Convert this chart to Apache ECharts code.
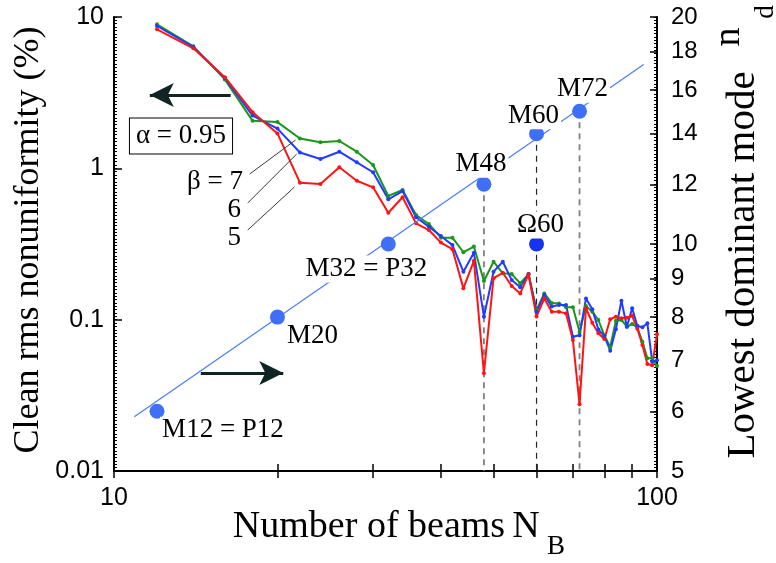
<!DOCTYPE html>
<html>
<head>
<meta charset="utf-8">
<script src="https://cdn.jsdelivr.net/npm/echarts@6/dist/echarts.min.js"></script>
<style>
  html, body { margin: 0; padding: 0; background: #fff; }
  #main { width: 776px; height: 563px; }
</style>
</head>
<body>
<div id="main"></div>
<script>
// number of beams N_B
var beams = [12, 14, 16, 18, 20, 22, 24, 26, 28, 30, 32, 34, 36, 38, 40, 42, 44, 46, 48, 50,
  52, 54, 56, 58, 60, 62, 64, 66, 68, 70, 72, 74, 76, 78, 80, 82, 84, 86, 88, 90,
  92, 94, 96, 98, 100]

// clean rms nonuniformity (%), beta = 5 / 6 / 7
var beta5 = [8.29, 6.21, 4.0, 2.35, 1.70, 0.804, 0.788, 1.016, 0.828, 0.749, 0.509, 0.644, 0.433, 0.391, 0.323, 0.292, 0.161, 0.245, 0.0442, 0.188,
  0.204, 0.167, 0.149, 0.199, 0.105, 0.138, 0.113, 0.113, 0.110, 0.0734, 0.0276, 0.119, 0.0955, 0.0813, 0.0745, 0.1006, 0.1046, 0.102, 0.103, 0.106,
  0.087, 0.068, 0.051, 0.050, 0.080]
var beta6 = [8.72, 6.34, 3.95, 2.23, 1.83, 1.272, 1.153, 1.288, 1.096, 0.942, 0.624, 0.708, 0.475, 0.412, 0.357, 0.311, 0.2075, 0.277, 0.1046, 0.2075,
  0.2415, 0.183, 0.164, 0.200, 0.113, 0.1455, 0.122, 0.125, 0.125, 0.0772, 0.079, 0.138, 0.117, 0.086, 0.078, 0.0624, 0.0864, 0.1335, 0.0898, 0.1189,
  0.091, 0.0891, 0.0946, 0.0528, 0.054]
var beta7 = [8.95, 6.4, 3.87, 2.06, 2.02, 1.574, 1.486, 1.516, 1.288, 1.052, 0.657, 0.719, 0.492, 0.429, 0.348, 0.348, 0.279, 0.304, 0.180, 0.2415,
  0.2025, 0.200, 0.174, 0.200, 0.116, 0.149, 0.129, 0.128, 0.121, 0.121, 0.083, 0.123, 0.113, 0.0995, 0.0785, 0.066, 0.0984, 0.0995, 0.0898, 0.0936,
  0.089, 0.0715, 0.0556, 0.0556, 0.0494]

// lowest dominant mode n_d (right axis)
var modeBeams = [12, 20, 32, 48, 60, 72]
var modeValues = [6, 8, 10, 12, 14, 15]
var modeNames = ['M12 = P12', 'M20', 'M32 = P32', 'M48', 'M60', 'M72']
var omegaBeams = [60]
var omegaValues = [10]
var omegaNames = ['\u03a960']
var fitBeams = [10.9, 94.5]
var fitModes = [5.9, 17.3]
var dropBeams = [48, 60, 72]

// axis ticks
var xTicks = [10, 20, 30, 40, 50, 60, 70, 80, 90, 100]
var xLabels = [10, 100]
var rightTicks = [5, 6, 7, 8, 9, 10, 12, 14, 16, 18, 20]

// annotation arrows / leader lines, in [N, %] units
var arrowLeft = [[16.4, 3.05], [11.64, 3.05]]
var arrowRight = [[14.45, 0.0444], [20.5, 0.0444]]
var leader7 = [[17.78, 0.917], [21.6, 1.539]]
var leader6 = [[17.63, 0.590], [21.7, 1.243]]
var leader5 = [[17.63, 0.391], [21.5, 0.753]]

var serif = 'Liberation Serif'
var sans = 'Liberation Sans'

// where each mode label sits relative to its dot
var labelOffset = {
  'M12 = P12': [66, 19],
  'M20': [35, 19],
  'M32 = P32': [-22, 25],
  'M48': [-3, -20],
  'M60': [-3, -18],
  'M72': [3, -22],
  '\u03a960': [4, -19]
}

function pairs(xs, ys) {
  return xs.map(function (x, i) { return [x, ys[i]] })
}

function labelled(xs, ys, names) {
  return xs.map(function (x, i) {
    return {
      value: [x, ys[i]],
      label: { offset: labelOffset[names[i]], formatter: names[i] }
    }
  })
}

function curve(name, values, color) {
  return {
    name: name,
    type: 'line',
    xAxisIndex: 0,
    yAxisIndex: 0,
    data: pairs(beams, values),
    symbol: 'circle',
    symbolSize: 4,
    color: color,
    lineStyle: { width: 2, color: color },
    z: 3,
    animation: false
  }
}

var arrowLine = { color: '#102424', width: 3, type: 'solid' }
var leaderLine = { color: '#3a3a3a', width: 1, type: 'solid' }
function seg(p, style, arrow) {
  return [
    { coord: p[0], symbol: 'none', lineStyle: style },
    { coord: p[1], symbol: arrow ? 'arrow' : 'none', symbolSize: [18, 24], lineStyle: style }
  ]
}

var series = []

dropBeams.forEach(function (n) {
  var k = modeBeams.indexOf(n)
  series.push({
    type: 'line',
    xAxisIndex: 0,
    yAxisIndex: 1,
    data: [[n, modeValues[k]], [n, rightTicks[0]]],
    symbol: 'none',
    lineStyle: {
      color: n === 60 ? '#1e2a2a' : '#808080',
      width: n === 60 ? 1.2 : 1.8,
      type: [6, 5]
    },
    z: 1,
    animation: false
  })
})

var green = curve('beta7', beta7, '#1a961a')
green.markLine = {
  silent: true,
  animation: false,
  symbol: 'none',
  label: { show: false },
  lineStyle: { type: 'solid' },
  data: [
    seg(arrowLeft, arrowLine, true),
    seg(arrowRight, arrowLine, true),
    seg(leader7, leaderLine, false),
    seg(leader6, leaderLine, false),
    seg(leader5, leaderLine, false)
  ]
}
series.push(green)
series.push(curve('beta6', beta6, '#1f3cff'))
series.push(curve('beta5', beta5, '#ff1414'))

series.push({
  type: 'line',
  xAxisIndex: 0,
  yAxisIndex: 1,
  data: pairs(fitBeams, fitModes),
  symbol: 'none',
  lineStyle: { color: '#4a7cf6', width: 1.2 },
  z: 4,
  animation: false
})

var modeLabel = {
  show: true,
  position: 'inside',
  color: '#000',
  fontFamily: serif,
  fontSize: 27,
  backgroundColor: '#fff',
  padding: [0, 2]
}

series.push({
  type: 'scatter',
  xAxisIndex: 0,
  yAxisIndex: 1,
  data: labelled(modeBeams, modeValues, modeNames),
  symbolSize: 15,
  itemStyle: { color: '#3f6ff5', opacity: 1 },
  label: modeLabel,
  z: 5,
  animation: false
})
series.push({
  type: 'scatter',
  xAxisIndex: 0,
  yAxisIndex: 1,
  data: labelled(omegaBeams, omegaValues, omegaNames),
  symbolSize: 15,
  itemStyle: { color: '#1634f0', opacity: 1 },
  label: modeLabel,
  z: 5,
  animation: false
})

var frame = { lineStyle: { color: '#000', width: 2 } }
// fine ruler ticks along both vertical axes
var ruler = function (pos, max) {
  return {
    type: 'value',
    min: 0,
    max: max,
    interval: 1,
    position: pos,
    axisLine: { show: false },
    axisTick: { inside: true, length: 3, lineStyle: { color: '#000', width: 1 } },
    axisLabel: { show: false },
    splitLine: { show: false }
  }
}

var option = {
  backgroundColor: '#fff',
  animation: false,
  grid: { left: 114, right: 119, top: 17, bottom: 92 },
  xAxis: [{
    type: 'log',
    min: 10,
    max: 100,
    position: 'bottom',
    axisLine: frame,
    axisTick: { inside: true, length: 7, customValues: xTicks, lineStyle: { color: '#000', width: 1.5 } },
    axisLabel: { customValues: xLabels, color: '#000', fontFamily: sans, fontSize: 25, margin: 15 },
    splitLine: { show: false }
  }, {
    type: 'log',
    min: 10,
    max: 100,
    position: 'top',
    axisLine: frame,
    axisTick: { inside: true, length: 7, customValues: xTicks, lineStyle: { color: '#000', width: 1.5 } },
    axisLabel: { show: false },
    splitLine: { show: false }
  }],
  yAxis: [{
    type: 'log',
    min: 0.01,
    max: 10,
    position: 'left',
    axisLine: frame,
    axisTick: { inside: true, length: 8, lineStyle: { color: '#000', width: 1.5 } },
    axisLabel: { color: '#000', fontFamily: sans, fontSize: 25, margin: 10 },
    splitLine: { show: false }
  }, {
    type: 'log',
    min: 5,
    max: 20,
    position: 'right',
    axisLine: frame,
    axisTick: { inside: true, length: 7, customValues: rightTicks, lineStyle: { color: '#000', width: 1.5 } },
    axisLabel: { customValues: rightTicks, color: '#000', fontFamily: sans, fontSize: 24, margin: 14 },
    splitLine: { show: false }
  },
  ruler('left', 135),
  ruler('right', 136)],
  graphic: [
    {
      type: 'text', x: 29, y: 240, rotation: Math.PI / 2,
      style: { text: 'Clean rms nonuniformity (%)', font: '36px "Liberation Serif"', fill: '#000', align: 'center', verticalAlign: 'middle' }
    },
    {
      type: 'text', x: 369, y: 527,
      style: { text: 'Number of beams', font: '38px "Liberation Serif"', fill: '#000', align: 'center', verticalAlign: 'middle' }
    },
    {
      type: 'text', x: 526, y: 527,
      style: { text: 'N', font: '38px "Liberation Serif"', fill: '#000', align: 'center', verticalAlign: 'middle' }
    },
    {
      type: 'text', x: 556, y: 547,
      style: { text: 'B', font: '27px "Liberation Serif"', fill: '#000', align: 'center', verticalAlign: 'middle' }
    },
    {
      type: 'text', x: 743, y: 265, rotation: Math.PI / 2,
      style: { text: 'Lowest dominant mode', font: '41px "Liberation Serif"', fill: '#000', align: 'center', verticalAlign: 'middle' }
    },
    {
      type: 'text', x: 729, y: 37, rotation: Math.PI / 2,
      style: { text: 'n', font: '38px "Liberation Serif"', fill: '#000', align: 'center', verticalAlign: 'middle' }
    },
    {
      type: 'text', x: 766, y: 12, rotation: Math.PI / 2,
      style: { text: 'd', font: '27px "Liberation Serif"', fill: '#000', align: 'center', verticalAlign: 'middle' }
    },
    {
      type: 'text', x: 181, y: 136, z: 10,
      style: {
        text: '\u03b1 = 0.95', font: '27px "Liberation Serif"', fill: '#000', align: 'center', verticalAlign: 'middle',
        backgroundColor: '#fff', borderColor: '#000', borderWidth: 1, padding: [4, 6]
      }
    },
    {
      type: 'text', x: 243, y: 182,
      style: { text: '\u03b2 = 7', font: '27px "Liberation Serif"', fill: '#000', align: 'right', verticalAlign: 'middle' }
    },
    {
      type: 'text', x: 241, y: 210,
      style: { text: '6', font: '27px "Liberation Serif"', fill: '#000', align: 'right', verticalAlign: 'middle' }
    },
    {
      type: 'text', x: 241, y: 238,
      style: { text: '5', font: '27px "Liberation Serif"', fill: '#000', align: 'right', verticalAlign: 'middle' }
    }
  ],
  series: series
}

var chart = echarts.init(document.getElementById('main'))
chart.setOption(option)
</script>
</body>
</html>
